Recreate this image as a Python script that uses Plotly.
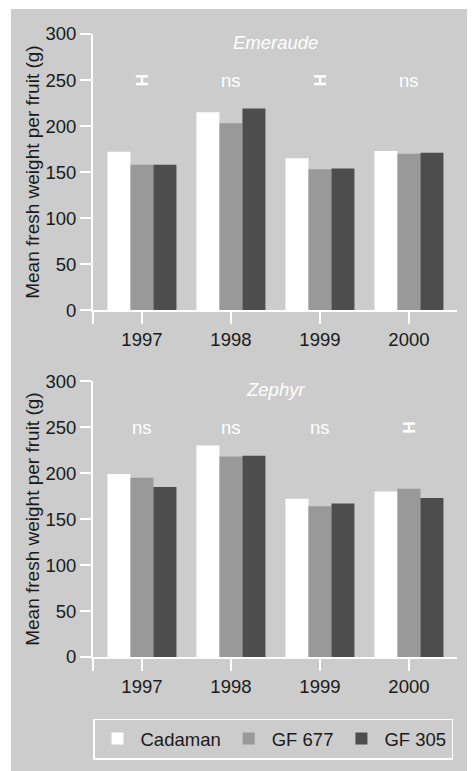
import plotly.graph_objects as go

years = ["1997", "1998", "1999", "2000"]
rootstocks = ["Cadaman", "GF 677", "GF 305"]
colors = ["#ffffff", "#999999", "#4d4d4d"]

emeraude = {
    "Cadaman": [172, 215, 165, 173],
    "GF 677": [158, 203, 153, 170],
    "GF 305": [158, 219, 154, 171],
}
zephyr = {
    "Cadaman": [199, 230, 172, 180],
    "GF 677": [195, 218, 164, 183],
    "GF 305": [185, 219, 167, 173],
}
sig_emeraude = ["H", "ns", "H", "ns"]
sig_zephyr = ["ns", "ns", "ns", "H"]
panel_titles = ["Emeraude", "Zephyr"]

FONT = "Liberation Sans, Arial, sans-serif"
TXT = "#1a1a1a"
OFF = 8  # default body margin of the page
W, H = 475 - OFF, 771 - OFF
# page-pixel layout targets
PX_L, PX_R, PX_T, PX_B = 93, 457, 34, 659
ML, MR, MT, MB = PX_L - OFF, 475 - PX_R, PX_T - OFF, 771 - PX_B
PW, PH = W - ML - MR, H - MT - MB


def py(p):
    return (PX_B - p) / PH


def px(p):
    return (p - PX_L) / PW


xpos = list(range(len(years)))

fig = go.Figure()
for panel, (data, axis_suffix) in enumerate([(emeraude, ""), (zephyr, "2")]):
    for name, col in zip(rootstocks, colors):
        fig.add_trace(go.Bar(
            x=xpos, y=data[name], name=name,
            marker=dict(color=col, line=dict(width=0)),
            xaxis="x" + axis_suffix, yaxis="y" + axis_suffix,
            showlegend=(panel == 0),
        ))

top_dom = [py(311), 1.0]
bot_dom = [0.0, py(382.3)]

axis_common_y = dict(
    range=[0, 300], tickvals=[0, 50, 100, 150, 200, 250, 300],
    showline=True, linecolor="white", linewidth=2,
    ticks="outside", ticklen=11, tickwidth=2, tickcolor="white",
    showgrid=False, zeroline=False,
    tickfont=dict(family=FONT, size=18.5, color=TXT),
    title=dict(text="Mean fresh weight per fruit (g)",
               font=dict(family=FONT, size=19, color=TXT), standoff=1),
)
axis_common_x = dict(
    range=[-0.55, 3.54], tickvals=[-0.55] + xpos, ticktext=[""] + years,
    showline=True, linecolor="white", linewidth=2,
    ticks="outside", ticklen=12, tickwidth=2, tickcolor="white",
    showgrid=False, zeroline=False,
    tickfont=dict(family=FONT, size=18.5, color=TXT),
)

fig.update_layout(
    width=W, height=H,
    margin=dict(l=ML, r=MR, t=MT, b=MB),
    paper_bgcolor="white", plot_bgcolor="rgba(0,0,0,0)",
    barmode="group", bargap=0.225, bargroupgap=0,
    xaxis=dict(axis_common_x, anchor="y"),
    yaxis=dict(axis_common_y, domain=top_dom, anchor="x"),
    xaxis2=dict(axis_common_x, anchor="y2"),
    yaxis2=dict(axis_common_y, domain=bot_dom, anchor="x2"),
    legend=dict(
        orientation="h", x=0, xanchor="left",
        y=py(720.7), yanchor="top",
        bgcolor="rgba(0,0,0,0)", bordercolor="white", borderwidth=1.5,
        font=dict(family=FONT, size=18.5, color=TXT),
        traceorder="normal", itemwidth=36,
    ),
    showlegend=True,
)

# grey panel background
fig.add_shape(type="rect", xref="paper", yref="paper",
              x0=px(11), x1=px(480),
              y0=py(780), y1=py(9),
              fillcolor="#cccccc", line=dict(width=0), layer="below")

for (sigs, title, xa, ya) in [(sig_emeraude, panel_titles[0], "x", "y"),
                               (sig_zephyr, panel_titles[1], "x2", "y2")]:
    fig.add_annotation(text=title, xref=xa + " domain", yref=ya, x=0.5, y=291,
                       showarrow=False,
                       font=dict(family=FONT, size=18.5, color="white", style="italic"))
    for xi, s in zip(xpos, sigs):
        if s == "ns":
            fig.add_annotation(text="ns", xref=xa, yref=ya, x=xi, y=250, showarrow=False,
                               font=dict(family=FONT, size=18.5, color="white"))
        else:
            fig.add_annotation(text="<b>H</b>", xref=xa, yref=ya, x=xi, y=250, showarrow=False,
                               textangle=90,
                               font=dict(family=FONT, size=17, color="white"))

fig.write_html("out.html")
